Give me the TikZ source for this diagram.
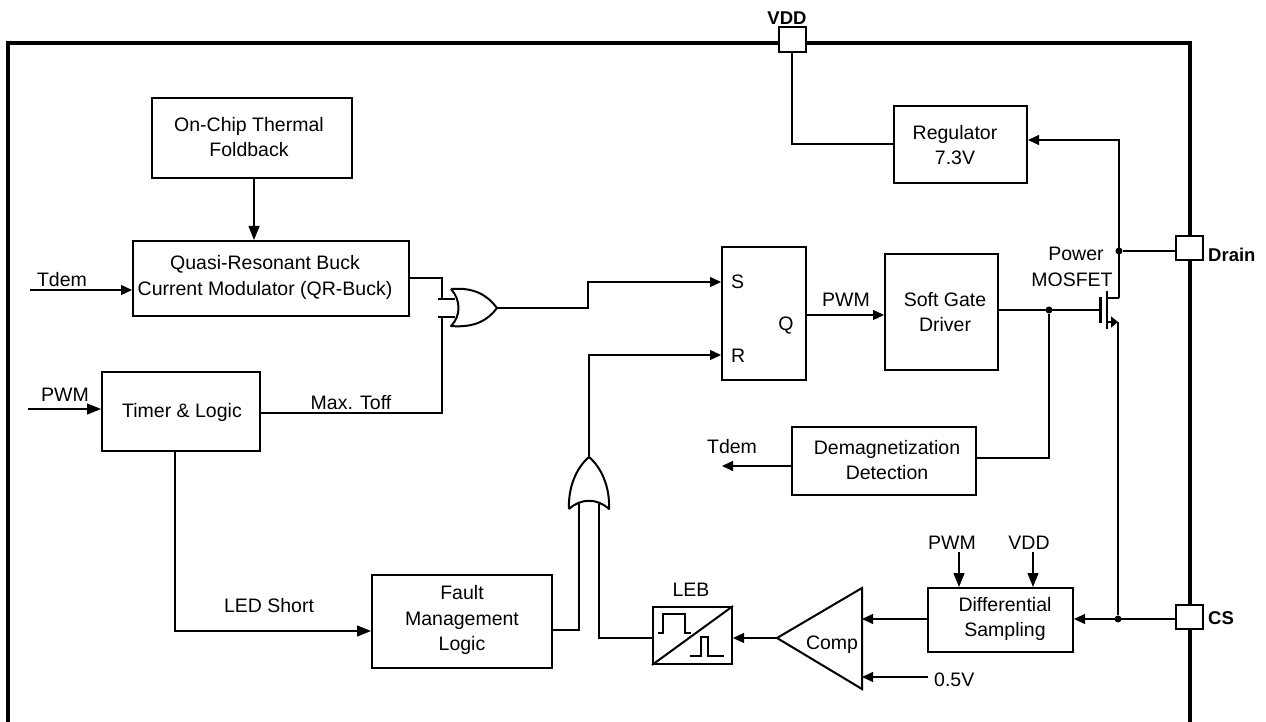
\documentclass[tikz,border=0pt]{standalone}
\usepackage{fontspec}
\setmainfont{Liberation Sans}
\usetikzlibrary{arrows.meta,calc}
\tikzset{
  blk/.style={draw=black,line width=2pt,inner sep=0pt},
  sbox/.style={draw=black,line width=1.6pt,inner sep=0pt,fill=white},
  wire/.style={draw=black,line width=1.2pt},
  arr/.style={wire,-{Triangle[length=11pt,width=10pt]}},
  barr/.style={wire,-{Triangle[length=14pt,width=11pt]}},
  lbl/.style={inner sep=0pt,align=center,font=\fontsize{19.5}{25.5}\selectfont},
  pin/.style={inner sep=0pt,font=\fontsize{18.5}{22}\selectfont\bfseries},
  gate/.style={draw=black,line width=2pt,line join=round},
  dot/.style={circle,fill=black,inner sep=0pt,minimum size=7pt},
  edge/.style={draw=black,line width=3.6pt},
  wave/.style={draw=black,line width=1.5pt}
}
\newcommand{\bx}[6]{\node[#1,minimum width=#5-#3,minimum height=#6-#4] (#2) at ({(#3+#5)/2},{(#4+#6)/2})}
\begin{document}
\begin{tikzpicture}[x=1pt,y=-1pt]
\path[use as bounding box] (0,0) rectangle (1266,722);
% chip outline
\coordinate (cbl) at (8,722);
\coordinate (ctl) at (8,43);
\coordinate (ctr) at (1190,43);
\coordinate (cbr) at (1190,722);
\draw[edge,line join=miter] (cbl) -- (ctl) -- (ctr) -- (cbr);
% blocks
\bx{blk}{therm}{152}{98}{352}{178} {};
\bx{blk}{qr}{133}{241}{409}{316} {};
\bx{blk}{timer}{102}{372}{260}{451} {};
\bx{blk}{sr}{722}{247}{806}{380} {};
\bx{blk}{sgd}{885}{254}{998}{370} {};
\bx{blk}{reg}{894}{106}{1027}{183} {};
\bx{blk}{dem}{792}{427}{976}{495} {};
\bx{blk}{dif}{928}{588}{1073}{652} {};
\bx{blk}{fault}{372}{575}{552}{668} {};
\bx{blk}{leb}{653}{607}{732}{664} {};
% block texts
\node[lbl] (ttherm) at (249,137) {On-Chip Thermal\\Foldback};
\node[lbl] (tqr) at (265,277.5) {Quasi-Resonant Buck\\Current Modulator (QR-Buck)};
\node[lbl] (ttimer) at (182,412) {Timer \& Logic};
\node[lbl] (tsgd) at (945,312) {Soft Gate\\Driver};
\node[lbl] (treg) at (955,145) {Regulator\\7.3V};
\node[lbl] (tdem) at (887,460) {Demagnetization\\Detection};
\node[lbl] (tdif) at (1005,619) {Differential\\Sampling};
\node[lbl] (tfault) at (462,620) {Fault\\Management\\Logic};
% pads
\bx{sbox}{pvdd}{779}{27}{806}{52} {};
\bx{sbox}{pdrain}{1176}{236}{1203}{260} {};
\bx{sbox}{pcs}{1176}{605}{1203}{629} {};
\node[pin] (lvdd) at (787,18) {VDD};
\node[pin,anchor=west] (ldrain) at (1208,255) {Drain};
\node[pin,anchor=west] (lcs) at (1208,618) {CS};
% LEB internals
\draw[blk] (leb.south west) -- (leb.north east);
\draw[wave] (658,633) -- (663,633) -- (663,614) -- (685,614) -- (685,633) -- (691,633);
\draw[wave] (690,656) -- (701,656) -- (701,637) -- (708,637) -- (708,656) -- (724,656);
% comparator
\coordinate (ct) at (777,638);
\coordinate (cu) at (862,588);
\coordinate (cd) at (862,689);
\draw[gate,line join=miter] (ct) -- (cu) -- (cd) -- cycle;
\node[lbl] (lcomp) at (832,645) {Comp};
\node[lbl] (lleb) at (691,590) {LEB};
% OR gate 1
\coordinate (o1a) at (451,289);
\coordinate (o1b) at (451,326);
\coordinate (o1o) at (497,308);
\coordinate (o1i) at (455,299);
\coordinate (o1j) at (455,317);
\draw[gate] (o1a) .. controls (475,287) and (488,296) .. (o1o) .. controls (488,320) and (475,328) .. (o1b) .. controls (461,316) and (461,300) .. (o1a);
% OR gate 2
\coordinate (o2a) at (569,509);
\coordinate (o2b) at (609,509);
\coordinate (o2o) at (589,457);
\coordinate (o2i) at (579,503);
\coordinate (o2j) at (599,503);
\draw[gate] (o2a) .. controls (568,488) and (576,468) .. (o2o) .. controls (602,468) and (610,488) .. (o2b) .. controls (597,498) and (581,498) .. (o2a);
% MOSFET
\coordinate (gt) at (1100,297);
\coordinate (gb) at (1100,323);
\coordinate (ch) at (1107,291);
\coordinate (cl) at (1107,329);
\coordinate (mg) at (1100,310);
\coordinate (md) at (1107,298);
\coordinate (ms) at (1107,322);
\coordinate (msa) at (1118,322);
\coordinate (mda) at (1119,298);
\draw[draw=black,line width=3pt] (gt) -- (gb);
\draw[draw=black,line width=2pt] (ch) -- (cl);
\draw[wire,line width=1.6pt] (md) -- (mda);
\draw[draw=black,line width=1.6pt,-{Triangle[length=7pt,width=11pt]}] (ms) -- (msa);
% dots
\node[dot] (jd) at (1119,251) {};
\node[dot] (jc) at (1118,619) {};
\node[dot] (jg) at (1049,310) {};
% connectors
\draw[barr] (therm.south -| 254,0) -- (qr.north -| 254,0);
\coordinate (tdemS) at (30,290);
\draw[arr] (tdemS) -- (qr.west |- tdemS);
\coordinate (pwmS) at (28,409);
\draw[barr] (pwmS) -- (timer.west |- pwmS);
\draw[wire] (qr.east |- 0,278) -| (442,299) -- (o1i);
\draw[wire] (o1j) -- (442,317) |- (timer.east |- 0,413);
\draw[wire] (438,299) -- (o1i);
\draw[wire] (438,317) -- (o1j);
\draw[arr] (o1o) -- (588,308) |- (sr.west |- 0,282);
\draw[arr] (o2o) |- (sr.west |- 0,355);
\draw[barr] (timer.south -| 175,0) |- (fault.west |- 0,631);
\draw[wire] (fault.east |- 0,630) -| (o2i);
\draw[wire] (leb.west |- 0,638) -| (o2j);
\draw[arr] (ct) -- (leb.east |- ct);
\draw[arr] (sr.east |- 0,315) -- (sgd.west |- 0,315);
\draw[wire,line width=2pt] (sgd.east |- mg) -- (mg);
\draw[wire] (jg) |- (dem.east |- 0,458);
\draw[arr] (dem.west |- 0,466) -- (722,466);
\draw[wire] (pvdd.south -| 792,0) |- (reg.west |- 0,144);
\draw[arr] (mda) -- (1119,140) -- (reg.east |- 0,140);
\draw[wire] (jd) -- (pdrain.west |- jd);
\draw[wire] (msa) -- (jc);
\draw[arr] (pcs.west |- jc) -- (dif.east |- jc);
\draw[arr] (dif.west |- jc) -- (cu |- jc);
\coordinate (refS) at (928,677);
\draw[arr] (refS) -- (cd |- refS);
\draw[barr] (959,552) -- (dif.north -| 959,0);
\draw[barr] (1033,552) -- (dif.north -| 1033,0);
% labels
\node[lbl] (a1) at (62,280) {Tdem};
\node[lbl] (a2) at (65,395) {PWM};
\node[lbl] (a3) at (351,403) {Max. Toff};
\node[lbl] (a4) at (269,606) {LED Short};
\node[lbl,anchor=west] (a5) at (731,282) {S};
\node[lbl,anchor=west] (a6) at (731,356) {R};
\node[lbl] (a7) at (786,326) {Q};
\node[lbl] (a8) at (846,300) {PWM};
\node[lbl] (a9) at (732,447) {Tdem};
\node[lbl] (a10) at (1076,254) {Power};
\node[lbl] (a11) at (1072,280) {MOSFET};
\node[lbl] (a12) at (952,543) {PWM};
\node[lbl] (a13) at (1029,543) {VDD};
\node[lbl,anchor=west] (a14) at (934,680) {0.5V};
\end{tikzpicture}
\end{document}
